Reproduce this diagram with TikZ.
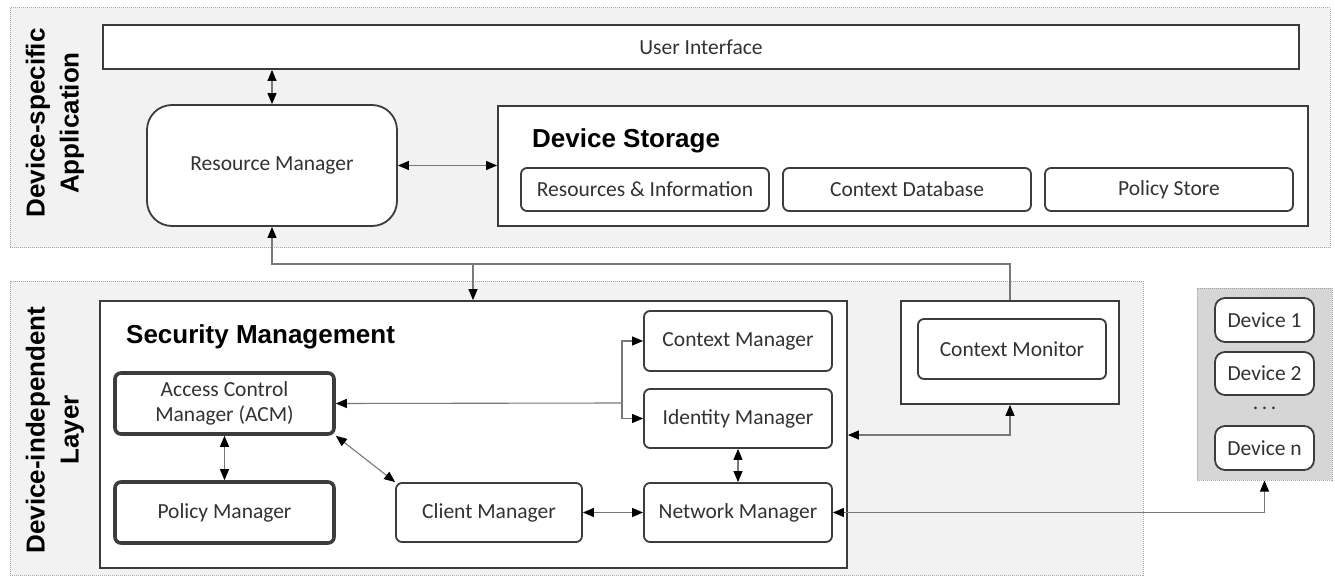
\documentclass[tikz,border=0pt]{standalone}
\usepackage{fontspec}
\setmainfont{Carlito}
\newfontfamily\headfont{Liberation Sans}[BoldFont={Liberation Sans Bold}]
\usetikzlibrary{arrows.meta}

\definecolor{layerfill}{RGB}{242,242,242}
\definecolor{groupfill}{RGB}{214,214,214}
\definecolor{edge}{RGB}{60,60,60}
\definecolor{dotc}{RGB}{165,165,165}
\definecolor{wire}{RGB}{120,120,120}
\definecolor{labelc}{RGB}{50,50,50}

\tikzset{
  layer/.style={draw=dotc, fill=layerfill, line width=1pt, dash pattern=on 1pt off 1pt},
  box/.style={draw=edge, fill=white, line width=1.8pt, inner sep=0pt, align=center,
    text=labelc, font=\fontsize{21.5}{25}\selectfont},
  rbox/.style={box, rounded corners=6pt},
  heavybox/.style={rbox, line width=3.6pt},
  heading/.style={font=\headfont\bfseries\fontsize{26}{30}\selectfont, text=black, inner sep=0pt},
  sidelabel/.style={font=\headfont\bfseries\fontsize{26}{34}\selectfont, rotate=90, align=center, inner sep=0pt},
  tip/.tip={Triangle[length=11pt,width=9pt,color=black]},
  conn/.style={draw=wire, line width=1.1pt, tip-tip},
  connto/.style={draw=wire, line width=1.1pt, -tip},
  connfrom/.style={draw=wire, line width=1.1pt, tip-},
}

% box from corner (x1,y1) to (x2,y2), in pixels with y downwards
\newcommand{\boxat}[6][box]{%
  \node[#1, minimum width={(#4)-(#2)}, minimum height={(#5)-(#3)}]
    at ({((#2)+(#4))/2},{((#3)+(#5))/2}) #6}

\begin{document}
\begin{tikzpicture}[x=1pt,y=-1pt]
\useasboundingbox (0,0) rectangle (1335,577);

% layers
\boxat[layer, inner sep=0pt]{10}{8}{1330}{248}{(appl) {};}
\boxat[layer, inner sep=0pt]{10}{281}{1143}{575}{(indep) {};}
\boxat[layer, fill=groupfill, inner sep=0pt]{1197}{288}{1332}{480}{(devs) {};}

\node[sidelabel] (applbl) at (55,123) {Device-specific\\Application};
\node[sidelabel] (indeplbl) at (55,430) {Device-independent\\Layer};

% device-specific application
\boxat{103}{25}{1299}{69}{(ui) {User Interface};}
\boxat[box, rounded corners=25pt]{147}{105}{397}{226}{(rm) {Resource Manager};}
\boxat{498}{106}{1308}{226}{(ds) {};}
\node[heading, anchor=base west] (dstitle) at (532,148) {Device Storage};
\boxat[rbox]{521}{168}{769}{211}{(ri) {Resources \& Information};}
\boxat[rbox]{783}{168}{1031}{211}{(cdb) {Context Database};}
\boxat[rbox]{1045}{168}{1293}{211}{(ps) {Policy Store};}

% device-independent layer
\boxat{100}{301}{847}{568}{(sm) {};}
\node[heading, anchor=base west] (smtitle) at (126,343) {Security Management};
\boxat[heavybox]{115}{373}{334}{434}{(acm) {Access Control\\Manager (ACM)};}
\boxat[heavybox]{115}{482}{334}{543}{(pm) {Policy Manager};}
\boxat[rbox]{396}{483}{582}{542}{(cl) {Client Manager};}
\boxat[rbox]{644}{483}{832}{542}{(nm) {Network Manager};}
\boxat[rbox]{644}{389}{832}{448}{(im) {Identity Manager};}
\boxat[rbox]{644}{311}{832}{371}{(cx) {Context Manager};}

\boxat{901}{301}{1119}{404}{(cmo) {};}
\boxat[rbox]{918}{319}{1106}{379}{(cmi) {Context Monitor};}

% devices
\boxat[box, rounded corners=10pt]{1215}{298}{1314}{342}{(d1) {Device 1};}
\boxat[box, rounded corners=10pt]{1215}{352}{1314}{395}{(d2) {Device 2};}
\node[text=labelc, font=\fontsize{21.5}{25}\selectfont] (dots) at (1264.5,408) {.\,.\,.};
\boxat[box, rounded corners=10pt]{1215}{426}{1314}{470}{(dn) {Device n};}

% connectors
\coordinate (bus) at (473,264);
\coordinate (split) at (622,403);
\coordinate (cmlink) at (1010,435);

\draw[conn] (rm.north) -- (rm.north |- ui.south);
\draw[conn] (rm.east) -- (rm.east -| ds.west);
\draw[connfrom] (rm.south) -- (rm.south |- bus) -| (cmo.north);
\draw[connto] (bus) -- (bus |- sm.north);

\draw[conn] (acm.south) -- (acm.south |- pm.north);
\draw[conn] (acm.south east) -- (cl.north west);
\draw[connfrom] (acm.east) -- (split);
\draw[connto] (split) |- (cx.west);
\draw[connto] (split) |- (im.west);
\draw[conn] (im.south) -- (nm.north);
\draw[conn] (cl.east) -- (nm.west);

\draw[conn] (cmo.south) -- (cmlink) -- (cmlink -| sm.east);
\draw[conn] (nm.east) -| (devs.south);
\end{tikzpicture}
\end{document}
